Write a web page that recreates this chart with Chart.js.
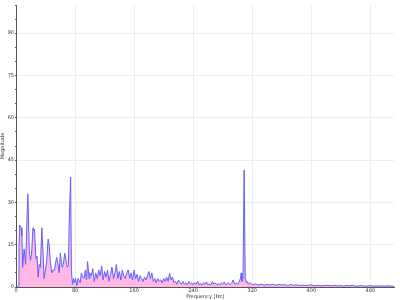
<!DOCTYPE html>
<html lang="en">
<head>
    <meta charset="UTF-8">
    <title>Spectrum</title>
    <script src="https://cdn.jsdelivr.net/npm/chart.js"></script>
    <style>
        html, body {
            margin: 0;
            padding: 0;
            background: #ffffff;
        }
        #chart {
            display: block;
        }
    </style>
</head>
<body>
    <canvas id="chart" width="400" height="300"></canvas>

    <script>
        // spectrum: frequency (Hz) and magnitude
        let freqHz = [
            0, 2, 3, 4, 5, 7, 8, 9, 11, 13, 16, 18, 19.5, 21, 23, 24, 25, 27, 28.5, 30,
            31.5, 33, 35, 36.5, 38, 41, 42, 43.5, 45, 46.5, 48.5, 50, 52, 55, 56.5, 58.5, 60, 62.5, 64, 66,
            68, 69.5, 71, 72, 74, 75, 76.5, 78, 79, 80.5, 82.5, 84, 87, 88.5, 90.5, 92, 94, 95.5, 97, 99,
            100, 102, 104, 106, 108, 110, 112, 114, 116, 118, 120, 122, 124, 126, 128, 130, 132, 134, 136, 138,
            140, 142, 144, 146, 148, 150, 152, 154, 156, 158, 160, 162, 164, 166, 168, 170, 172, 174, 176, 178,
            180, 182, 184, 186, 188, 190, 192, 194, 196, 198, 200, 202, 204, 206, 208, 210, 212, 214, 216, 218,
            220, 222, 224, 226, 228, 230, 232, 234, 236, 238, 240, 242, 244, 246, 248, 250, 252, 254, 256, 258,
            260, 262, 264, 266, 268, 270, 272, 274, 276, 278, 280, 282, 284, 286, 288, 290, 292, 294, 296, 298,
            300, 302, 304, 305, 306, 307.5, 309, 310.5, 312, 313, 315, 317, 320, 324, 328, 332, 336, 340, 344, 348,
            352, 356, 360, 364, 368, 372, 376, 380, 384, 388, 392, 396, 400, 404, 408, 412, 416, 420, 424, 428,
            432, 436, 440, 444, 448, 452, 456, 460, 464, 468, 472, 476, 480, 484, 488, 492, 496, 500, 504, 508, 512
        ];
        let magnitude = [
            0, 0, 0.5, 14, 22, 21, 18, 7, 13.5, 8, 33, 13, 9.5, 11.5, 21, 20, 20.5, 10, 11, 3.5,
            8, 7, 21, 13, 3, 8, 11, 17, 15, 9, 5, 6, 6, 10.5, 8.7, 5, 12, 7, 8, 12,
            9, 7, 8, 22, 39, 6, 1, 3, 1.5, 3, 0.5, 3, 1.5, 5, 3.5, 3, 6, 2.5, 9, 3,
            5, 4, 6.5, 2, 5, 3, 6, 4, 7.5, 2.5, 5.5, 3.5, 6, 2, 4.5, 7, 3, 5, 8, 3,
            5.5, 2.5, 6, 4, 3, 5, 6, 3, 5, 2.5, 6, 3, 4.5, 2, 4, 3, 2, 3.5, 2.5, 4,
            5.5, 3, 5, 2, 3, 1.5, 3, 2, 2.5, 1.5, 3, 2, 3.5, 2, 4.8, 2.5, 3.5, 1.5, 2, 1,
            2.5, 1.5, 1, 2, 1, 1.5, 0.8, 2, 1, 1.5, 0.8, 1.5, 1, 2, 0.8, 1.2, 0.7, 1.5, 1, 1.8,
            0.8, 1.2, 0.7, 1.9, 1, 1.4, 0.8, 1.2, 0.7, 1.5, 1, 1.8, 0.8, 1.2, 1.5, 0.8, 1.3, 2.5, 1, 1.5,
            1, 1.8, 3, 5, 2, 3, 41.5, 3, 1.5, 1.9, 1, 1.6, 0.8, 1.1, 0.7, 1, 0.6, 0.9, 0.7, 1,
            0.6, 0.9, 0.7, 0.8, 0.5, 0.9, 0.6, 0.8, 0.5, 0.7, 0.5, 0.6, 0.8, 0.4, 0.6, 0.5, 0.4, 0.6, 0.5, 0.4,
            0.6, 0.4, 0.5, 0.3, 0.5, 0.4, 0.6, 0.3, 0.4, 0.5, 0.3, 0.4, 0.5, 0.3, 0.4, 0.3, 0.4, 0.3, 0.4, 0.3, 0.3
        ];

        let xMax = 512;
        let xLabelStep = 80;
        let yMax = 100;
        let yLabelStep = 15;

        let points = freqHz.map((f, i) => ({ x: f, y: magnitude[i] }));

        let font = { family: 'DejaVu Sans', size: 5 };

        let ctx = document.getElementById("chart").getContext("2d");
        let chart = new Chart(ctx, {
            type: 'line',
            data: {
                datasets: [{
                    data: points,
                    borderColor: 'rgb(95, 95, 255)',
                    borderWidth: 1,
                    backgroundColor: 'rgba(255, 165, 220, 0.8)',
                    fill: 'origin',
                    pointRadius: 0,
                    tension: 0
                }]
            },
            options: {
                responsive: false,
                animation: false,
                layout: { padding: { top: 5, right: 6, left: 0, bottom: 0 } },
                plugins: {
                    legend: { display: false },
                    tooltip: { enabled: false }
                },
                scales: {
                    x: {
                        type: 'linear',
                        min: 0,
                        max: xMax,
                        afterFit: s => { s.height = 13; },
                        border: { color: '#555555', width: 1 },
                        grid: {
                            color: c => c.tick && c.tick.value % xLabelStep === 0 ? '#ececec' : 'rgba(0,0,0,0)',
                            tickColor: '#555555',
                            tickLength: 1
                        },
                        ticks: {
                            stepSize: 20,
                            autoSkip: false,
                            maxRotation: 0,
                            padding: 0,
                            color: '#333333',
                            font: font,
                            callback: v => v % xLabelStep === 0 ? v : ''
                        },
                        title: {
                            display: true,
                            text: 'Frequency [Hz]',
                            color: '#333333',
                            font: font,
                            padding: 0
                        }
                    },
                    y: {
                        min: 0,
                        max: yMax,
                        afterFit: s => { s.width = 16; },
                        border: { color: '#555555', width: 1 },
                        grid: {
                            color: c => c.tick && c.tick.value % yLabelStep === 0 && c.tick.value > 0 ? '#ececec' : 'rgba(0,0,0,0)',
                            tickColor: '#555555',
                            tickLength: 1
                        },
                        ticks: {
                            stepSize: 5,
                            autoSkip: false,
                            padding: 1,
                            color: '#333333',
                            font: font,
                            callback: v => v % yLabelStep === 0 && v < yMax ? v : ''
                        },
                        title: {
                            display: true,
                            text: 'Magnitude',
                            color: '#333333',
                            font: font,
                            padding: 0
                        }
                    }
                }
            }
        });
    </script>
</body>
</html>
